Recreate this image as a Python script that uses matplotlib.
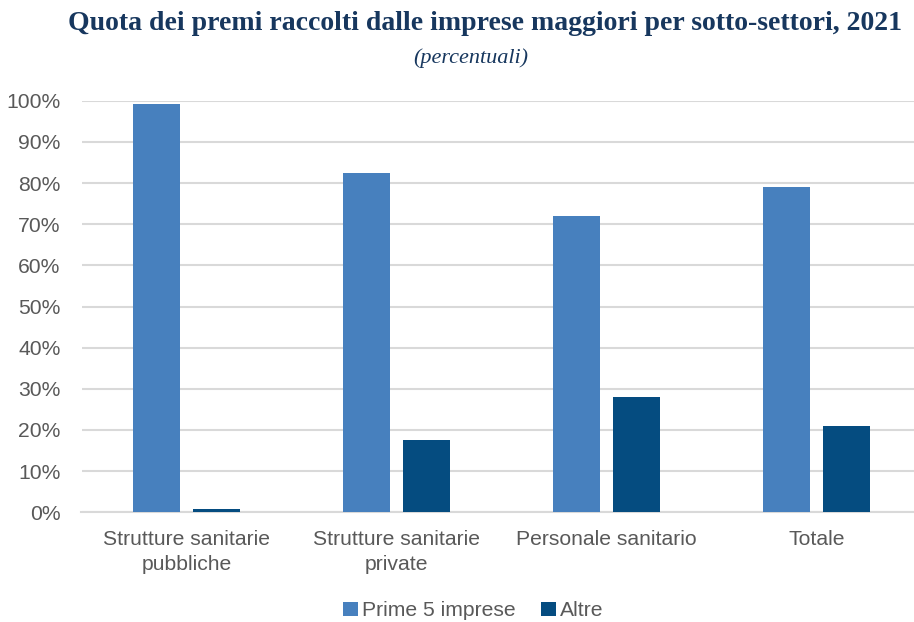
import numpy as np
import matplotlib
matplotlib.use("Agg")
import matplotlib.pyplot as plt
from matplotlib.ticker import PercentFormatter

# data
categories = ["Strutture sanitarie\npubbliche", "Strutture sanitarie\nprivate",
              "Personale sanitario", "Totale"]
prime5 = [99.2, 82.5, 72.1, 79.0]
altre = [0.8, 17.5, 27.9, 21.0]
series_names = ["Prime 5 imprese", "Altre"]

c_light = "#4780BE"
c_dark = "#054C80"
grey = "#595959"

plt.rcParams["font.family"] = ["Liberation Sans", "DejaVu Sans"]

fig = plt.figure(figsize=(9.14, 6.22), dpi=100, facecolor="w")
ax = fig.add_axes([81.5 / 914, 109.7 / 622, 840 / 914, 411.6 / 622])

x = np.arange(len(categories))
w = 47 / 210
gap = 13 / 210
ax.bar(x - (w + gap) / 2, prime5, w, color=c_light, label=series_names[0], zorder=3)
ax.bar(x + (w + gap) / 2, altre, w, color=c_dark, label=series_names[1], zorder=3)

ax.set_xlim(-0.5, 3.5)
ax.set_ylim(0, 100)
ax.set_yticks(np.arange(0, 101, 10))
ax.yaxis.set_major_formatter(PercentFormatter(decimals=0))
ax.set_xticks(x)
ax.set_xticklabels(categories, linespacing=1.4)
ax.tick_params(axis="both", length=0, labelsize=15.2, colors=grey)
ax.tick_params(axis="y", pad=15)
ax.tick_params(axis="x", pad=13)
ax.grid(axis="y", color="#D9D9D9", lw=1.5, zorder=0)
for spine in ("top", "right", "left"):
    ax.spines[spine].set_visible(False)
ax.spines["bottom"].set_color("#D9D9D9")
ax.spines["bottom"].set_linewidth(1.5)

fig.text(0.531, 0.962, "Quota dei premi raccolti dalle imprese maggiori per sotto-settori, 2021",
         ha="center", va="center", fontsize=20, fontweight="bold",
         family="Liberation Serif", color="#17375E")
fig.text(0.515, 0.906, "(percentuali)", ha="center", va="center", fontsize=16,
         style="italic", family="Liberation Serif", color="#17375E")

leg = fig.legend(loc="center", bbox_to_anchor=(0.518, 0.018), ncol=2, frameon=False,
                 fontsize=15.2, handlelength=0.7, handleheight=0.7, handletextpad=0.2,
                 columnspacing=1.2)
for t in leg.get_texts():
    t.set_color(grey)

fig.savefig("out.png", dpi=100)
